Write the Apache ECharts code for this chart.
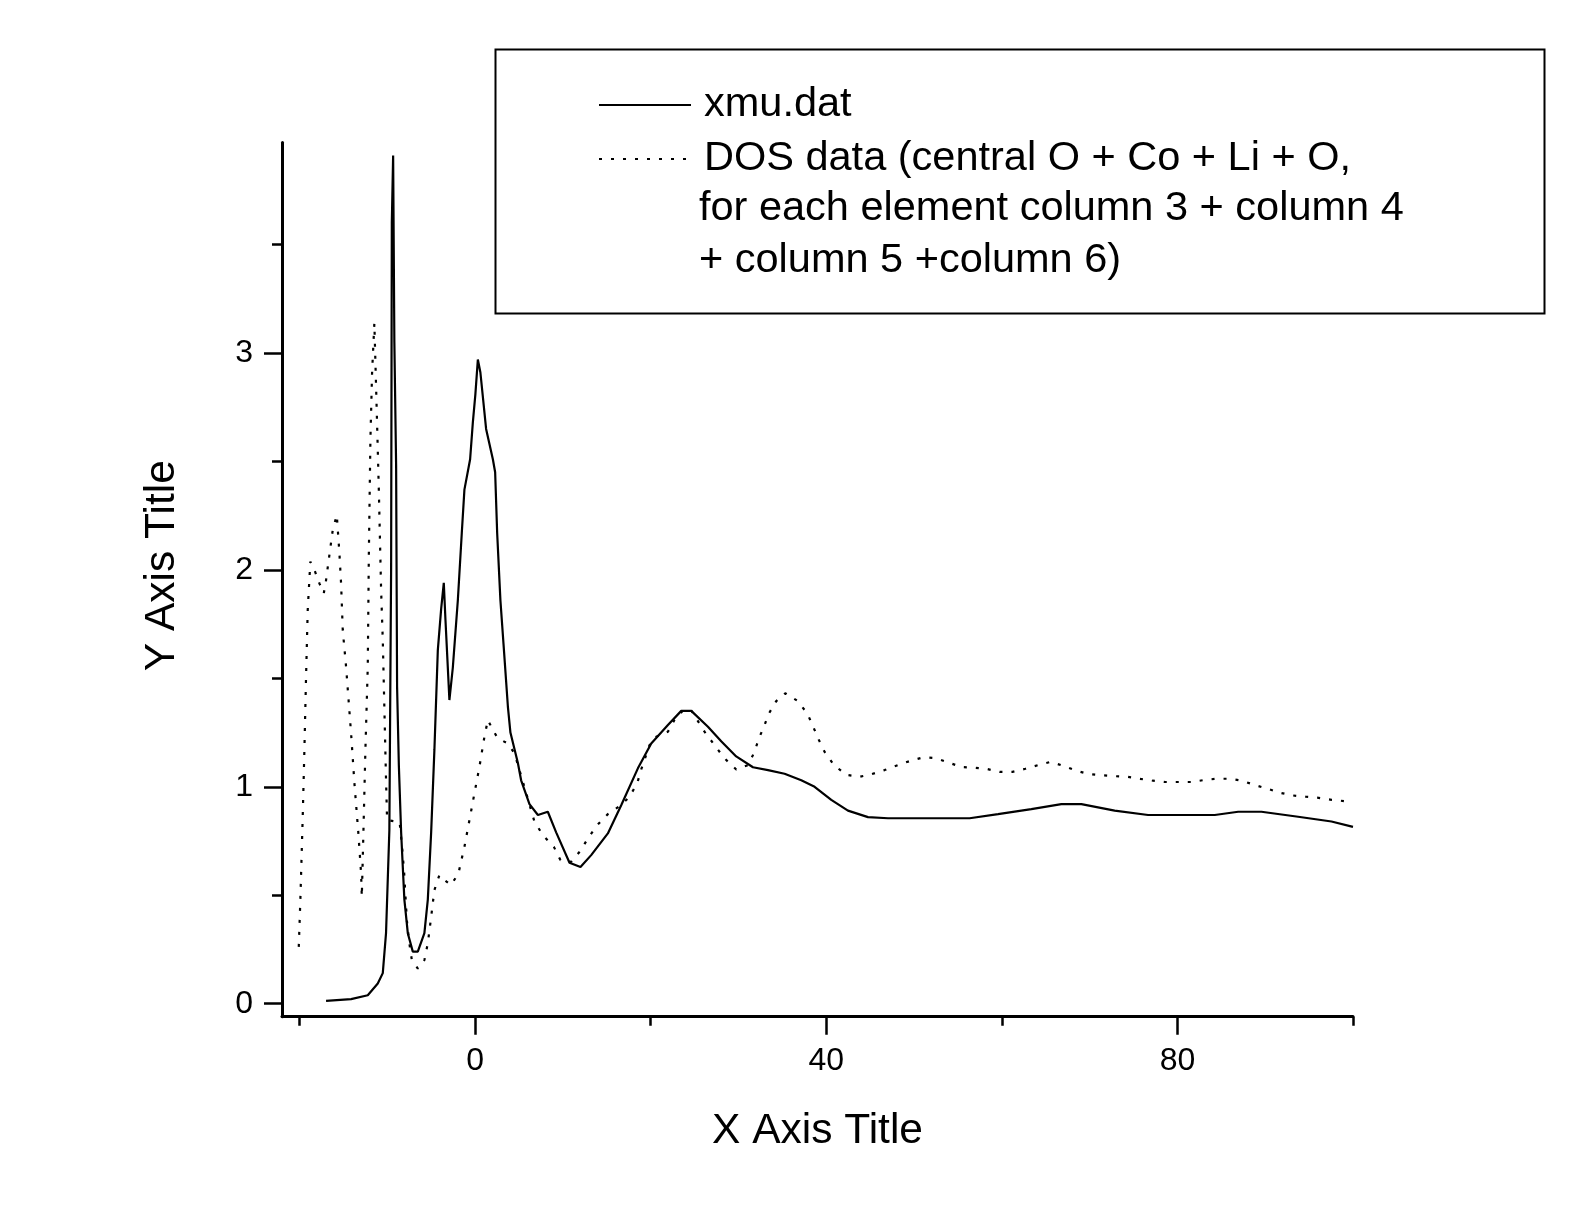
<!DOCTYPE html>
<html>
<head>
<meta charset="utf-8">
<script src="https://cdn.jsdelivr.net/npm/echarts@6/dist/echarts.min.js"></script>
<style>
html,body{margin:0;padding:0;background:#fff;}
#chart{width:1575px;height:1219px;}
</style>
</head>
<body>
<div id="chart"></div>
<script>
// ---- data ----
const xmuX = [-16.98,-14.13,-12.23,-11.09,-10.52,-10.15,-9.77,-9.57,-9.49,-9.34,-9.20,-9.00,-8.89,-8.69,-8.43,-8.06,-7.67,-7.10,-6.53,-5.78,-5.39,-5.01,-4.64,-4.25,-3.87,-3.57,-3.38,-2.93,-2.54,-1.97,-1.52,-1.22,-0.57,-0.26,0.03,0.31,0.60,1.25,2.02,2.28,2.51,2.88,3.23,3.73,4.02,4.87,5.24,6.19,7.15,8.28,9.23,10.75,12.0,13.22,15.12,16.64,18.54,20.06,21.96,23.48,24.62,26.52,28.03,29.74,31.65,33.36,35.25,37.15,38.67,40.57,42.47,44.75,47.03,56.33,59.57,63.36,66.78,69.06,72.85,76.66,84.25,86.92,89.57,93.75,97.55,100.0];
const xmuY = [0.013,0.021,0.039,0.093,0.141,0.325,0.80,2.01,3.60,3.91,3.05,2.48,1.46,1.10,0.79,0.48,0.325,0.24,0.24,0.325,0.48,0.79,1.17,1.63,1.82,1.94,1.77,1.40,1.55,1.86,2.17,2.37,2.51,2.68,2.81,2.97,2.91,2.65,2.51,2.45,2.17,1.86,1.66,1.37,1.25,1.11,1.03,0.92,0.87,0.885,0.79,0.65,0.63,0.685,0.785,0.915,1.085,1.20,1.285,1.35,1.35,1.277,1.21,1.14,1.09,1.077,1.06,1.03,1.0,0.94,0.89,0.86,0.855,0.855,0.874,0.897,0.92,0.92,0.89,0.87,0.87,0.885,0.885,0.862,0.84,0.815];

const dosX = [-20.09,-19.91,-19.64,-19.45,-19.26,-19.07,-18.77,-18.31,-17.74,-17.24,-16.98,-16.60,-16.22,-15.76,-15.46,-15.27,-15.08,-14.70,-14.13,-13.75,-13.30,-12.99,-12.91,-12.73,-12.50,-12.23,-12.11,-11.93,-11.74,-11.48,-11.17,-10.97,-10.71,-10.52,-10.14,-10.03,-8.60,-8.32,-8.09,-7.78,-7.49,-7.21,-6.53,-5.78,-5.39,-5.01,-4.64,-4.07,-3.50,-2.74,-1.90,-1.22,-0.65,-0.08,0.49,1.06,1.45,2.02,2.59,3.73,4.48,5.05,6.76,7.72,8.97,9.72,10.94,12.0,12.84,13.90,15.12,16.64,17.58,18.46,18.92,19.86,20.63,21.96,22.71,23.67,24.54,25.19,26.13,27.27,28.41,29.74,31.08,31.83,32.28,32.90,33.42,34.30,35.33,36.69,37.83,38.48,39.12,39.81,40.88,42.28,43.79,45.21,46.64,48.17,49.61,51.09,52.46,53.98,55.38,56.83,58.31,59.75,61.20,62.68,64.13,65.56,66.97,68.49,69.89,71.34,72.85,74.30,75.70,77.23,78.63,80.08,81.52,83.04,84.44,85.96,87.37,88.81,90.26,91.74,93.18,94.62,96.10,97.55,99.0];
const dosY = [0.262,0.477,0.862,1.169,1.507,1.815,2.038,2.0,1.938,1.892,1.953,2.069,2.184,2.253,2.077,1.938,1.723,1.553,1.246,1.016,0.785,0.601,0.493,0.785,1.169,1.553,2.061,2.599,2.907,3.137,2.676,2.369,1.907,1.677,1.016,0.846,0.837,0.722,0.607,0.385,0.278,0.201,0.162,0.201,0.278,0.400,0.524,0.593,0.570,0.547,0.601,0.723,0.846,0.970,1.092,1.231,1.308,1.262,1.223,1.200,1.154,1.077,0.839,0.777,0.723,0.662,0.654,0.705,0.762,0.823,0.874,0.916,0.954,1.016,1.080,1.192,1.231,1.254,1.308,1.351,1.357,1.315,1.254,1.192,1.131,1.080,1.100,1.161,1.219,1.277,1.335,1.395,1.431,1.397,1.339,1.280,1.219,1.161,1.100,1.055,1.046,1.059,1.077,1.100,1.120,1.136,1.132,1.111,1.091,1.088,1.082,1.069,1.069,1.083,1.100,1.115,1.097,1.074,1.059,1.053,1.049,1.046,1.037,1.028,1.022,1.022,1.022,1.031,1.037,1.037,1.028,1.008,0.991,0.972,0.960,0.954,0.949,0.940,0.934];

const xMajorTicks = [0, 40, 80];
const xMinorTicks = [-20, 20, 60, 100];
const yMajorTicks = [0, 1, 2, 3];
const yMinorTicks = [0.5, 1.5, 2.5, 3.5];

const xmuName = 'xmu.dat';
const dosLines = ['DOS data (central O + Co + Li + O,', 'for each element column 3 + column 4', '+ column 5 +column 6)'];
const xTitle = 'X Axis Title';
const yTitle = 'Y Axis Title';

// ---- chart ----
const FONT = "'Liberation Sans', Arial, sans-serif";
const xRange = {min: -22, max: 100};
const yRange = {min: -0.06, max: 3.97};

const chart = echarts.init(document.getElementById('chart'), null, {renderer: 'canvas'});
const zip = (xs, ys) => xs.map((x, i) => [x, ys[i]]);

const option = {
  animation: false,
  backgroundColor: '#ffffff',
  grid: {left: 282, right: 222, top: 142.6, bottom: 202.3, containLabel: false},
  xAxis: [
    {
      type: 'value', min: xRange.min, max: xRange.max, position: 'bottom',
      axisLine: {show: true, onZero: false, lineStyle: {color: '#000', width: 3}},
      axisTick: {show: true, inside: false, length: 18, customValues: xMajorTicks, lineStyle: {color: '#000', width: 2.5}},
      axisLabel: {show: true, customValues: xMajorTicks, margin: 28, color: '#000', fontSize: 32, fontFamily: FONT},
      splitLine: {show: false},
      name: xTitle, nameLocation: 'middle', nameGap: 93,
      nameTextStyle: {color: '#000', fontSize: 42.5, fontFamily: FONT}
    },
    {
      type: 'value', min: xRange.min, max: xRange.max, position: 'bottom',
      axisLine: {show: false, onZero: false},
      axisTick: {show: true, inside: false, length: 9, customValues: xMinorTicks, lineStyle: {color: '#000', width: 2.5}},
      axisLabel: {show: false},
      splitLine: {show: false}
    }
  ],
  yAxis: [
    {
      type: 'value', min: yRange.min, max: yRange.max, position: 'left',
      axisLine: {show: true, onZero: false, lineStyle: {color: '#000', width: 3}},
      axisTick: {show: true, inside: false, length: 18, customValues: yMajorTicks, lineStyle: {color: '#000', width: 2.5}},
      axisLabel: {show: true, customValues: yMajorTicks, margin: 29, color: '#000', fontSize: 32, fontFamily: FONT},
      splitLine: {show: false},
      name: yTitle, nameLocation: 'middle', nameGap: 98, nameRotate: 90,
      nameTextStyle: {color: '#000', fontSize: 42.5, fontFamily: FONT, padding: [0, 0, 0, 28]}
    },
    {
      type: 'value', min: yRange.min, max: yRange.max, position: 'left',
      axisLine: {show: false, onZero: false},
      axisTick: {show: true, inside: false, length: 10, customValues: yMinorTicks, lineStyle: {color: '#000', width: 2.5}},
      axisLabel: {show: false},
      splitLine: {show: false}
    }
  ],
  legend: {
    orient: 'vertical',
    left: 598, top: 84,
    padding: 0,
    itemWidth: 92, itemHeight: 14, itemGap: 12,
    data: [xmuName, dosLines[0]],
    itemStyle: {opacity: 0},
    textStyle: {color: '#000', fontSize: 41.5, fontFamily: FONT, lineHeight: 40, padding: [0, 0, 0, 8]},
    selectedMode: false
  },
  graphic: [
    {
      type: 'rect', left: 493, top: 47, z: 0,
      shape: {x: 0, y: 0, width: 1049, height: 264},
      style: {fill: 'none', stroke: '#000', lineWidth: 2}
    },
    {
      type: 'text', x: 699, y: 209, z: 10,
      style: {text: dosLines[1], fill: '#000', font: '41.5px ' + FONT, verticalAlign: 'middle'}
    },
    {
      type: 'text', x: 699, y: 261, z: 10,
      style: {text: dosLines[2], fill: '#000', font: '41.5px ' + FONT, verticalAlign: 'middle'}
    }
  ],
  series: [
    {
      name: xmuName, type: 'line', xAxisIndex: 0, yAxisIndex: 0,
      data: zip(xmuX, xmuY), showSymbol: false, symbol: 'none', smooth: false,
      lineStyle: {color: '#000', width: 2.2, type: 'solid'},
      itemStyle: {color: '#000'}
    },
    {
      name: dosLines[0], type: 'line', xAxisIndex: 0, yAxisIndex: 0,
      data: zip(dosX, dosY), showSymbol: false, symbol: 'none', smooth: false,
      lineStyle: {color: '#000', width: 2.2, type: [3, 9]},
      itemStyle: {color: '#000'}
    }
  ]
};
chart.setOption(option);
</script>
</body>
</html>
